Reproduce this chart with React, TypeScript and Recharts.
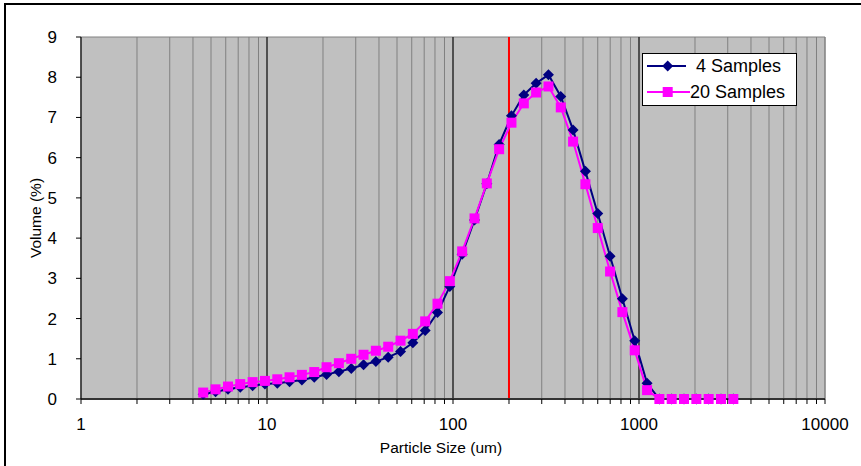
import React from 'react';
import {
  LineChart,
  Line,
  XAxis,
  YAxis,
  CartesianGrid,
  ReferenceLine,
  ReferenceArea,
  Legend,
} from 'recharts';

// Particle sizes (um) of each measurement channel
const sizes = [
  4.54, 5.29, 6.17, 7.18, 8.37, 9.75, 11.36, 13.22, 15.4, 17.95, 20.9, 24.35,
  28.37, 33.04, 38.49, 44.84, 52.23, 60.83, 70.86, 82.55, 96.14, 112.0, 130.5,
  152.0, 177.0, 206.2, 240.3, 279.8, 326.0, 379.7, 442.2, 515.1, 600.1, 699.1,
  814.1, 948.4, 1105, 1287, 1499, 1746, 2034, 2369, 2760, 3215,
];

// Volume (%) - 4 Samples
const samples4 = [
  0.12, 0.18, 0.24, 0.29, 0.33, 0.37, 0.39, 0.43, 0.47, 0.54, 0.61, 0.68, 0.76,
  0.85, 0.93, 1.04, 1.18, 1.4, 1.7, 2.15, 2.8, 3.6, 4.45, 5.35, 6.33, 7.04,
  7.56, 7.85, 8.06, 7.52, 6.69, 5.66, 4.61, 3.55, 2.49, 1.45, 0.39, 0, 0, 0, 0,
  0, 0, 0,
];

// Volume (%) - 20 Samples
const samples20 = [
  0.16, 0.24, 0.31, 0.37, 0.42, 0.45, 0.49, 0.54, 0.6, 0.67, 0.79, 0.89, 1.0,
  1.1, 1.2, 1.3, 1.45, 1.62, 1.93, 2.37, 2.93, 3.67, 4.49, 5.36, 6.21, 6.87,
  7.35, 7.62, 7.77, 7.25, 6.4, 5.34, 4.25, 3.17, 2.16, 1.21, 0.22, 0, 0, 0, 0,
  0, 0, 0,
];

const xTicks = [
  1, 2, 3, 4, 5, 6, 7, 8, 9, 10, 20, 30, 40, 50, 60, 70, 80, 90, 100, 200, 300,
  400, 500, 600, 700, 800, 900, 1000, 2000, 3000, 4000, 5000, 6000, 7000, 8000,
  9000, 10000,
];
const xTickLabels = [1, 10, 100, 1000, 10000];
const decadeLines = [10, 100, 1000];
const yTicks = [0, 1, 2, 3, 4, 5, 6, 7, 8, 9];
const markerLine = 200;

const seriesNames = ['4 Samples', '20 Samples'];

const data = sizes.map((s, i) => ({ size: s, s4: samples4[i], s20: samples20[i] }));

const FONT = '"Liberation Sans", Arial, sans-serif';
const NAVY = '#000080';
const PINK = '#FF00FF';

const Diamond = (props: any) => {
  const { cx, cy, index } = props;
  if (cx == null || cy == null) return <g key={`d-${index}`} />;
  const r = 5.5;
  return (
    <polygon
      key={`d-${index}`}
      points={`${cx},${cy - r} ${cx + r},${cy} ${cx},${cy + r} ${cx - r},${cy}`}
      fill={NAVY}
    />
  );
};

const Square = (props: any) => {
  const { cx, cy, index } = props;
  if (cx == null || cy == null) return <g key={`s-${index}`} />;
  return <rect key={`s-${index}`} x={cx - 5} y={cy - 5} width={10} height={10} fill={PINK} />;
};

const LegendBox = () => (
  <svg width={156} height={54} style={{ display: 'block' }}>
    <rect x={0.5} y={0.5} width={154} height={52} fill="#fff" stroke="#000" />
    <line x1={5} x2={44} y1={13} y2={13} stroke={NAVY} strokeWidth={2} />
    <polygon points="25.7,7.5 31.2,13 25.7,18.5 20.2,13" fill={NAVY} />
    <text x={54} y={19} fontSize={18} fontFamily={FONT} fill="#000">
      {seriesNames[0]}
    </text>
    <line x1={5} x2={48} y1={39} y2={39} stroke={PINK} strokeWidth={2} />
    <rect x={20.7} y={34} width={10} height={10} fill={PINK} />
    <text x={48} y={45} fontSize={18} fontFamily={FONT} fill="#000">
      {seriesNames[1]}
    </text>
  </svg>
);

export default function App() {
  return (
    <div
      style={{
        position: 'absolute',
        left: 0,
        top: 0,
        width: 861,
        height: 466,
        background: '#fff',
        overflow: 'hidden',
        fontFamily: FONT,
      }}
    >
      <div
        style={{
          position: 'absolute',
          left: 4,
          top: 3,
          right: -10,
          bottom: -10,
          borderLeft: '2px solid #000',
          borderTop: '2px solid #000',
        }}
      />
      <LineChart
        width={861}
        height={466}
        data={data}
        margin={{ top: 37, right: 36, bottom: 7, left: 21 }}
        style={{ position: 'absolute', left: 0, top: 0 }}
      >
        <CartesianGrid
          horizontal={false}
          vertical={true}
          stroke="#808080"
          strokeWidth={1}
          fill="#c0c0c0"
          fillOpacity={1}
        />
        <ReferenceArea
          x1={1}
          x2={10000}
          y1={0}
          y2={9}
          fill="none"
          stroke="#808080"
          strokeWidth={1}
        />
        {decadeLines.map((d) => (
          <ReferenceLine key={d} x={d} stroke="#000" strokeWidth={1} />
        ))}
        <ReferenceLine x={markerLine} stroke="#FF0000" strokeWidth={2} />
        <XAxis
          dataKey="size"
          type="number"
          scale="log"
          domain={[1, 10000]}
          ticks={xTicks}
          interval={0}
          allowDataOverflow
          height={60}
          tickSize={5}
          tickMargin={14}
          tickLine={{ stroke: '#000' }}
          axisLine={{ stroke: '#333', strokeWidth: 2 }}
          tick={{ fill: '#000', fontSize: 17, fontFamily: FONT }}
          tickFormatter={(v: number) => (xTickLabels.includes(v) ? String(v) : '')}
          label={{
            value: 'Particle Size (um)',
            position: 'insideBottom',
            offset: 6,
            dx: -12,
            fill: '#000',
            fontSize: 15.5,
            fontFamily: FONT,
          }}
        />
        <YAxis
          type="number"
          domain={[0, 9]}
          ticks={yTicks}
          interval={0}
          width={60}
          tickSize={5}
          tickMargin={19}
          tickLine={{ stroke: '#000' }}
          axisLine={{ stroke: '#000' }}
          tick={{ fill: '#000', fontSize: 17, fontFamily: FONT }}
          label={{
            value: 'Volume (%)',
            angle: -90,
            position: 'insideLeft',
            offset: 14,
            fill: '#000',
            fontSize: 15.5,
            fontFamily: FONT,
            style: { textAnchor: 'middle' },
          }}
        />
        <Legend
          layout="vertical"
          align="center"
          verticalAlign="middle"
          wrapperStyle={{ position: 'absolute', left: 642, top: 53, width: 156, height: 54 }}
          content={() => <LegendBox />}
        />
        <Line
          dataKey="s4"
          name={seriesNames[0]}
          stroke={NAVY}
          strokeWidth={2}
          dot={Diamond}
          activeDot={false}
          isAnimationActive={false}
        />
        <Line
          dataKey="s20"
          name={seriesNames[1]}
          stroke={PINK}
          strokeWidth={2}
          dot={Square}
          activeDot={false}
          isAnimationActive={false}
        />
      </LineChart>
    </div>
  );
}
